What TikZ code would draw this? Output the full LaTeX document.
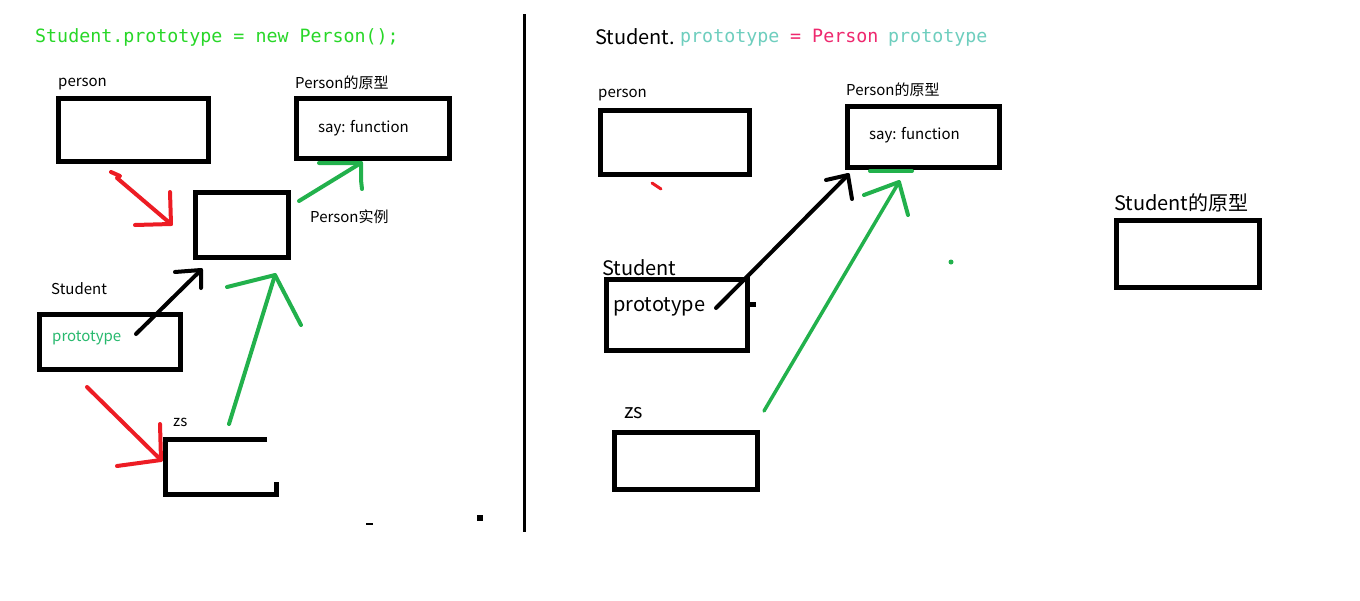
\documentclass[tikz,border=0pt]{standalone}
\usepackage{fontspec}
\setmainfont{Noto Sans CJK SC}
\newfontfamily\codefont{DejaVu Sans Mono}
\definecolor{codegreen}{RGB}{40,215,40}
\definecolor{pgreen}{RGB}{34,177,76}
\definecolor{pred}{RGB}{237,28,36}
\definecolor{teal}{RGB}{110,206,190}
\definecolor{pink}{RGB}{238,40,110}
\definecolor{protogreen}{RGB}{40,185,110}
\tikzset{
  box/.style={draw=black, line width=5pt, inner sep=0pt, anchor=north west},
  lbl/.style={anchor=base west, inner sep=0pt, font=\fontsize{15}{18}\selectfont},
  biglbl/.style={anchor=base west, inner sep=0pt, font=\fontsize{20}{24}\selectfont},
  code/.style={anchor=base west, inner sep=0pt, font=\codefont\fontsize{18.3}{22}\selectfont},
  redarr/.style={draw=pred, line width=4pt, line cap=round, line join=round},
  grnarr/.style={draw=pgreen, line width=4pt, line cap=round, line join=round},
  blkarr/.style={draw=black, line width=4pt, line cap=round, line join=round},
}
\begin{document}
\begin{tikzpicture}[x=1pt,y=-1pt]
\useasboundingbox (0,0) rectangle (1360,600);
\fill[white] (0,0) rectangle (1360,600);

% divider
\draw[line width=3pt] (524,14) -- (524,532);

% ---------- LEFT ----------
\node[code, text=codegreen] (titleL) at (35,42) {Student.prototype = new Person();};

\node[box, minimum width=150pt, minimum height=63pt] (personL) at (56,96) {};
\node[lbl] (personLlbl) at (58,86) {person};

\node[box, minimum width=153pt, minimum height=60pt] (protoL) at (294,96) {};
\node[lbl] (protoLlbl) at (295,88) {Person的原型};
\node[lbl] (sayL) at (318,132) {say: function};

\node[box, minimum width=93pt, minimum height=65pt] (inst) at (193,190) {};
\node[lbl] (instlbl) at (310,222) {Person实例};

\node[box, minimum width=141pt, minimum height=55pt] (studL) at (37,312) {};
\node[lbl] (studLlbl) at (51,294) {Student};
\node[lbl, text=protogreen] (protoword) at (52,341) {prototype};

\coordinate (zsA) at (267,439.5);
\coordinate (zsB) at (165.5,439.5);
\coordinate (zsC) at (165.5,494.5);
\coordinate (zsD) at (276.5,494.5);
\coordinate (zsE) at (276.5,482);
\draw[line width=5pt, line join=miter] (zsA) -- (zsB) -- (zsC) -- (zsD) -- (zsE);
\node[lbl] (zsLlbl) at (173,426) {zs};

% stray marks
\fill (366,523) rectangle (373,525);
\fill (477,515) rectangle (483,521);

% red: person -> instance
\coordinate (r1s) at (111,172);
\coordinate (r1z) at (117,178);
\coordinate (r1e) at (171,224);
\coordinate (r1h1) at (135,225);
\coordinate (r1h2) at (170,192);
\draw[redarr] (r1s) -- (120,176) -- (r1z) -- (r1e);
\draw[redarr] (r1h1) -- (r1e) -- (r1h2);

% green: instance -> Person prototype
\coordinate (g1s) at (299,201);
\coordinate (g1e) at (361,163);
\coordinate (g1h1) at (319,163);
\coordinate (g1h2) at (362,189);
\draw[grnarr] (g1s) -- (g1e);
\draw[grnarr] (g1h1) -- (g1e) -- (361,180) -- (g1h2);

% black: Student.prototype -> instance
\coordinate (b1s) at (136,334);
\coordinate (b1e) at (201,270);
\coordinate (b1h1) at (175,272);
\coordinate (b1h2) at (201,288);
\draw[blkarr] (b1s) -- (b1e);
\draw[blkarr] (b1h1) -- (b1e) -- (b1h2);

% green: zs -> instance
\coordinate (g2s) at (229,424);
\coordinate (g2e) at (275,275);
\coordinate (g2h1) at (227,287);
\coordinate (g2h2) at (301,325);
\draw[grnarr] (g2s) -- (g2e);
\draw[grnarr] (g2h1) -- (g2e) -- (g2h2);

% red: Student -> zs
\coordinate (r2s) at (87,387);
\coordinate (r2e) at (161,460);
\coordinate (r2h1) at (117,466);
\coordinate (r2h2) at (160,424);
\draw[redarr] (r2s) -- (r2e);
\draw[redarr] (r2h1) -- (r2e) -- (r2h2);

% ---------- RIGHT ----------
\node[biglbl] (titleR1) at (595,44) {Student.};
\node[code, text=teal] (titleR2) at (680,42) {prototype};
\node[code, text=pink] (titleR3) at (790,42) {= Person};
\node[code, text=teal] (titleR4) at (888,42) {prototype};

\node[box, minimum width=149pt, minimum height=64pt] (personR) at (598,108) {};
\node[lbl] (personRlbl) at (598,97) {person};
\draw[pred, line width=3pt, line cap=round] (652,183) -- (661,189);

\node[box, minimum width=152pt, minimum height=61pt] (protoR) at (845,104) {};
\node[lbl] (protoRlbl) at (846,95) {Person的原型};
\node[lbl] (sayR) at (869,139) {say: function};
\coordinate (gl1) at (870,171);
\coordinate (gl2) at (912,171);
\draw[grnarr] (gl1) -- (gl2);

\node[box, minimum width=141pt, minimum height=71pt] (studR) at (604,277) {};
\node[biglbl] (studRlbl) at (602,275) {Student};
\node[biglbl] (protoR2) at (613,311) {prototype};
\fill (750,302) rectangle (756,307);

\node[box, minimum width=143pt, minimum height=57pt] (zsR) at (612,430) {};
\node[biglbl] (zsRlbl) at (624,418) {zs};

\node[box, minimum width=143pt, minimum height=67pt] (studproto) at (1114,218) {};
\node[biglbl] (studprotolbl) at (1114,210) {Student的原型};

% black: prototype -> Person prototype
\coordinate (b2s) at (716,308);
\coordinate (b2e) at (848,175);
\coordinate (b2h1) at (826,180);
\coordinate (b2h2) at (852,199);
\draw[blkarr] (b2s) -- (b2e);
\draw[blkarr] (b2h1) -- (b2e) -- (b2h2);

% green: zs -> Person prototype
\coordinate (g3s) at (764,411);
\coordinate (g3e) at (899,182);
\coordinate (g3h1) at (864,195);
\coordinate (g3h2) at (908,215);
\draw[draw=pgreen, line width=3.5pt, line cap=round] (g3s) -- (g3e);
\draw[grnarr] (g3h1) -- (g3e) -- (g3h2);

\fill[pgreen] (951,262) circle (2.5pt);
\end{tikzpicture}
\end{document}
